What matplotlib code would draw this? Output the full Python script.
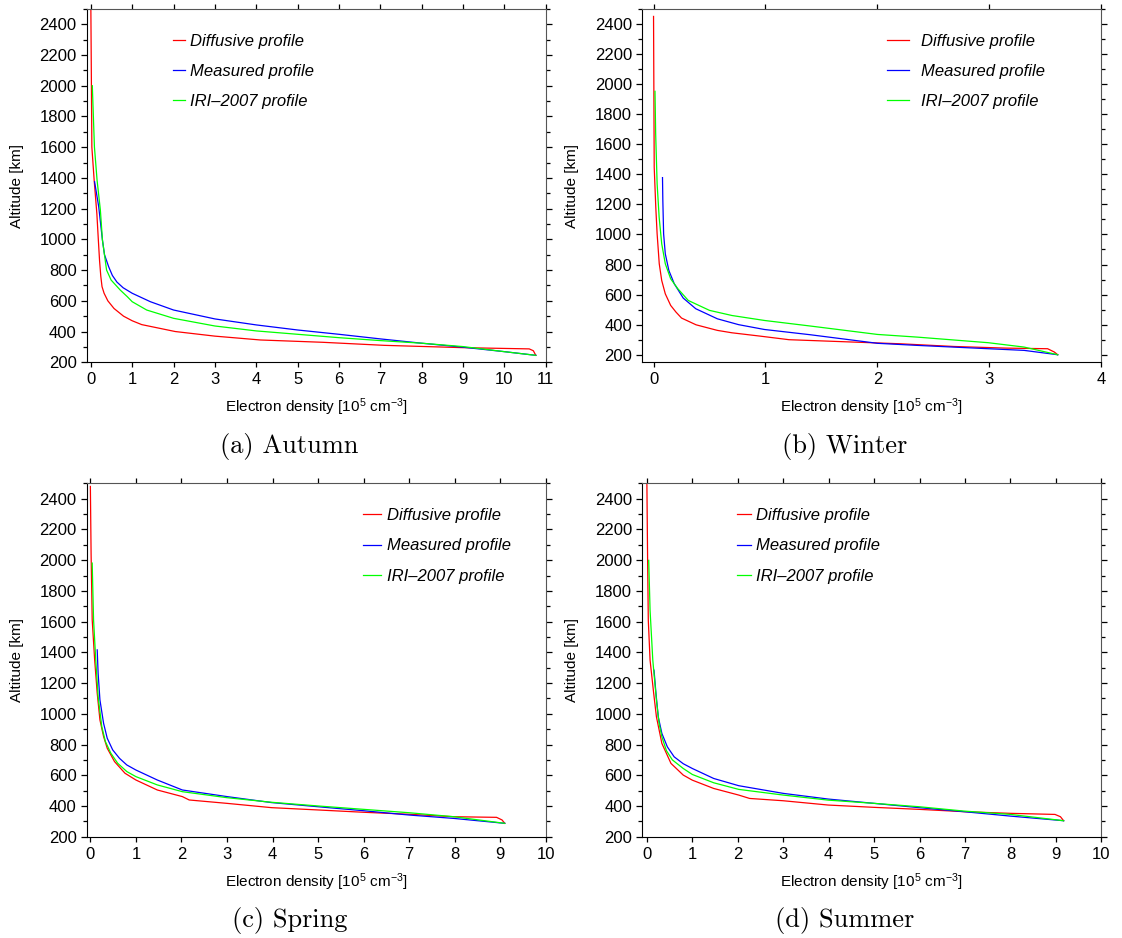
import matplotlib
matplotlib.use("Agg")
import matplotlib.pyplot as plt
from matplotlib.ticker import MultipleLocator

plt.rcParams['font.family'] = ['Liberation Sans', 'DejaVu Sans']
plt.rcParams['mathtext.fontset'] = 'custom'
plt.rcParams['mathtext.rm'] = 'Liberation Sans'
plt.rcParams['mathtext.it'] = 'Liberation Sans:italic'

# ---- data: (density [1e5 cm^-3], altitude [km]) ----
# (a) Autumn
autumn_diff_x = [0.0, 0.024, 0.08, 0.145, 0.18, 0.21, 0.24, 0.27, 0.32, 0.41, 0.56, 0.79, 1.0, 1.23, 2.04, 3.0, 4.1, 5.6, 7.1, 9.0, 10.6, 10.7, 10.76]
autumn_diff_y = [2500, 1600, 1384, 1167, 1000, 862, 760, 692, 649, 600, 550, 500, 470, 445, 400, 370, 345, 330, 310, 295, 287, 275, 245]
autumn_meas_x = [0.09, 0.19, 0.28, 0.33, 0.43, 0.52, 0.63, 0.78, 1.0, 1.44, 2.0, 3.0, 4.0, 5.0, 6.0, 7.0, 8.0, 9.0, 10.0, 10.76]
autumn_meas_y = [1375, 1212, 995, 900, 822, 765, 722, 685, 649, 594, 540, 482, 443, 410, 382, 352, 324, 298, 269, 245]
autumn_iri_x = [0.035, 0.086, 0.15, 0.23, 0.28, 0.38, 0.49, 0.71, 0.88, 1.0, 1.35, 2.0, 3.0, 4.0, 5.0, 6.0, 7.0, 8.0, 9.0, 10.0, 10.76]
autumn_iri_y = [2000, 1602, 1385, 1190, 995, 800, 735, 670, 627, 594, 540, 486, 436, 404, 382, 360, 341, 324, 302, 269, 245]

# (b) Winter
winter_diff_x = [0.0, 0.006, 0.02, 0.032, 0.051, 0.073, 0.105, 0.153, 0.2, 0.25, 0.38, 0.57, 0.70, 0.95, 1.21, 1.72, 2.2, 2.68, 3.15, 3.52, 3.58, 3.61]
winter_diff_y = [2450, 1447, 1181, 1004, 805, 694, 605, 528, 484, 444, 399, 362, 346, 324, 300, 286, 273, 255, 244, 240, 218, 200]
winter_meas_x = [0.08, 0.083, 0.09, 0.105, 0.137, 0.185, 0.265, 0.377, 0.57, 0.76, 0.99, 1.40, 2.0, 2.36, 2.99, 3.31, 3.61]
winter_meas_y = [1378, 1226, 1004, 871, 760, 672, 577, 506, 439, 400, 368, 333, 276, 262, 240, 229, 200]
winter_iri_x = [0.013, 0.019, 0.032, 0.05, 0.073, 0.105, 0.153, 0.217, 0.31, 0.50, 0.70, 0.99, 1.40, 2.0, 2.36, 2.99, 3.31, 3.61]
winter_iri_y = [1952, 1669, 1337, 1115, 938, 805, 705, 639, 561, 495, 461, 428, 391, 335, 317, 280, 251, 200]

# (c) Spring
spring_diff_x = [0.0, 0.016, 0.04, 0.094, 0.15, 0.21, 0.29, 0.37, 0.53, 0.76, 1.0, 1.47, 2.02, 2.17, 3.0, 3.98, 5.0, 6.0, 7.0, 7.98, 8.92, 9.04, 9.1]
spring_diff_y = [2480, 2037, 1612, 1351, 1134, 960, 852, 776, 689, 613, 569, 504, 461, 439, 417, 389, 374, 359, 346, 330, 326, 309, 287]
spring_meas_x = [0.15, 0.17, 0.21, 0.29, 0.37, 0.49, 0.64, 0.80, 1.0, 1.47, 2.02, 3.0, 3.98, 5.0, 6.0, 7.0, 7.98, 9.1]
spring_meas_y = [1416, 1264, 1090, 938, 841, 765, 710, 667, 634, 569, 504, 461, 422, 395, 369, 341, 319, 287]
spring_iri_x = [0.04, 0.07, 0.118, 0.17, 0.25, 0.33, 0.45, 0.60, 0.80, 1.0, 1.47, 2.02, 3.0, 3.98, 5.0, 6.0, 7.0, 7.98, 9.1]
spring_iri_y = [1981, 1612, 1351, 1112, 917, 819, 743, 678, 624, 591, 537, 493, 454, 424, 400, 378, 356, 330, 287]

# (d) Summer
summer_diff_x = [0.0, 0.016, 0.031, 0.07, 0.15, 0.21, 0.33, 0.53, 0.80, 1.0, 1.47, 2.02, 2.26, 3.0, 3.99, 5.0, 5.99, 6.97, 8.0, 8.98, 9.1, 9.17]
summer_diff_y = [2500, 1999, 1609, 1349, 1132, 980, 807, 677, 601, 568, 514, 471, 449, 434, 406, 391, 378, 363, 352, 345, 330, 304]
summer_meas_x = [0.157, 0.2, 0.25, 0.33, 0.45, 0.6, 0.8, 1.0, 1.47, 2.02, 3.0, 3.99, 5.0, 5.99, 6.97, 8.0, 9.17]
summer_meas_y = [1284, 1132, 980, 872, 785, 720, 675, 644, 579, 532, 482, 445, 417, 389, 363, 334, 304]
summer_iri_x = [0.04, 0.07, 0.13, 0.21, 0.27, 0.33, 0.43, 0.56, 0.8, 1.0, 1.47, 2.02, 3.0, 3.99, 5.0, 5.99, 6.97, 8.0, 9.17]
summer_iri_y = [1999, 1674, 1349, 1089, 935, 850, 760, 700, 644, 605, 551, 508, 471, 438, 417, 395, 367, 345, 304]

captions = ['(a) Autumn', '(b) Winter', '(c) Spring', '(d) Summer']
labels = ['Diffusive profile', 'Measured profile', 'IRI\u20132007 profile']
colors = ['#ff0000', '#0000ff', '#00ff00']


def draw_panel(ax, curves, xmax, xmin, ymin, leg_x, handle_len, text_pad):
    for (x, y), col, lab in zip(curves, colors, labels):
        ax.plot(x, y, color=col, lw=0.9, label=lab)
    ax.set_xlim(xmin, xmax)
    ax.set_ylim(ymin, 2500)
    ax.xaxis.set_major_locator(MultipleLocator(1))
    ax.yaxis.set_major_locator(MultipleLocator(200))
    ax.yaxis.set_minor_locator(MultipleLocator(100))
    ax.tick_params(which='both', direction='out', top=True, right=True,
                   labeltop=False, labelright=False, labelsize=12, width=0.9)
    ax.tick_params(axis='y', which='major', length=4.3, pad=3)
    ax.tick_params(axis='y', which='minor', length=3)
    ax.tick_params(axis='x', which='major', length=3.3, pad=4)
    for side in ['top', 'right']:
        ax.spines[side].set_color('#555555')
    ax.set_xlabel('Electron density [10$^5$ cm$^{-3}$]', fontsize=11)
    ax.set_ylabel('Altitude [km]', fontsize=11)
    ax.xaxis.set_label_coords(0.5, -0.098)
    ax.yaxis.set_label_coords(-0.137, 0.5)
    leg = ax.legend(loc='upper left', bbox_to_anchor=(leg_x, 0.93), frameon=False,
                    borderaxespad=0, borderpad=0, handlelength=handle_len,
                    handletextpad=text_pad, labelspacing=0.92,
                    prop={'style': 'italic', 'size': 12})
    return leg


fig = plt.figure(figsize=(11.22, 9.38), dpi=100)
w, h = 0.4091, 0.3767
ax_a = fig.add_axes([0.0773, 0.6138, w, h])
ax_b = fig.add_axes([0.5725, 0.6138, w, h])
ax_c = fig.add_axes([0.0773, 0.108, w, h])
ax_d = fig.add_axes([0.5725, 0.108, w, h])

draw_panel(ax_a, [(autumn_diff_x, autumn_diff_y), (autumn_meas_x, autumn_meas_y),
                  (autumn_iri_x, autumn_iri_y)], 11, -0.1, 200, 0.187, 0.75, 0.32)
draw_panel(ax_b, [(winter_diff_x, winter_diff_y), (winter_meas_x, winter_meas_y),
                  (winter_iri_x, winter_iri_y)], 4, -0.1, 150, 0.534, 1.28, 0.75)
draw_panel(ax_c, [(spring_diff_x, spring_diff_y), (spring_meas_x, spring_meas_y),
                  (spring_iri_x, spring_iri_y)], 10, -0.08, 200, 0.602, 1.09, 0.32)
draw_panel(ax_d, [(summer_diff_x, summer_diff_y), (summer_meas_x, summer_meas_y),
                  (summer_iri_x, summer_iri_y)], 10, -0.1, 200, 0.207, 0.82, 0.32)

cap_pos = [(0.258, 0.524), (0.753, 0.524), (0.258, 0.019), (0.753, 0.019)]
for (cx, cy), cap in zip(cap_pos, captions):
    fig.text(cx, cy, cap, family='cmr10', fontsize=19, ha='center', va='center')

fig.savefig('out.png', dpi=100)
